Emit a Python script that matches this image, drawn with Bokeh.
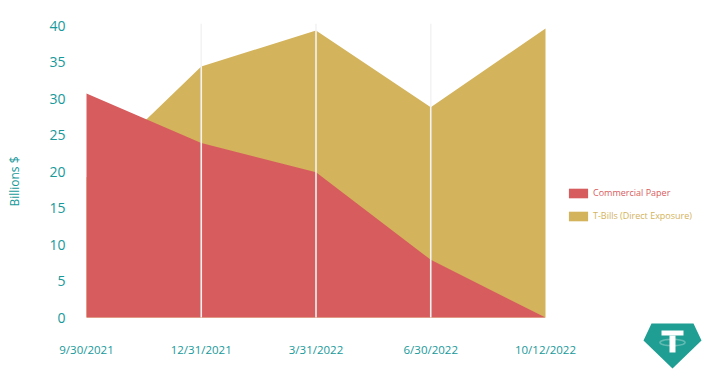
import numpy as np
from bokeh.plotting import figure
from bokeh.models import (Range1d, FixedTicker, Legend, LegendItem, PolyAnnotation,
                          LinearAxis, Label)
from bokeh.embed import file_html
from bokeh.resources import INLINE

dates = ["9/30/2021", "12/31/2021", "3/31/2022", "6/30/2022", "10/12/2022"]
commercial_paper = [30.7, 23.9, 19.9, 7.9, 0.0]
t_bills = [19.2, 34.4, 39.3, 28.8, 39.6]
y_ticks = [0, 5, 10, 15, 20, 25, 30, 35, 40]

RED = "#D75C5E"
GOLD = "#D3B35B"
TEAL = "#17999A"
LOGO = "#1F9E93"
FONT = "Open Sans"

W, H = 706, 373
x = list(range(len(dates)))
n = len(dates) - 1

# frame covers the whole canvas; data 0..4 -> px 86..545, 0..40 -> px 317..25
FL, FT = 0, 0
px_x = (545 - 86) / n
px_y = (317 - 25) / 40
x_start = -(86 - FL) / px_x
x_end = (W - 86) / px_x
y_start = -(H - 317) / px_y
y_end = 40 + (25 - FT) / px_y

def sx_to_data(sx):
    return (sx - 86) / px_x

def sy_to_data(sy):
    return (317 - sy) / px_y

p = figure(width=W, height=H, output_backend="svg", toolbar_location=None,
           x_range=Range1d(x_start, x_end), y_range=Range1d(y_start, y_end),
           x_axis_location=None, y_axis_location=None,
           min_border_left=FL, min_border_right=0, min_border_top=FT, min_border_bottom=0)
p.outline_line_color = None
p.background_fill_color = "white"
p.border_fill_color = "white"
p.grid.grid_line_color = None

g = p.varea(x=x, y1=0, y2=t_bills, fill_color=GOLD)
r = p.varea(x=x, y1=0, y2=commercial_paper, fill_color=RED)

# vertical guide lines at the inner dates
inner = x[1:-1]
p.segment(x0=inner, y0=[0] * len(inner), x1=inner, y1=[40.25] * len(inner),
          line_color="#f3f3f3", line_width=1.6, level="overlay")

# x axis drawn at a fixed location below the baseline
xaxis = LinearAxis(fixed_location=sy_to_data(341))
xaxis.ticker = FixedTicker(ticks=x)
xaxis.major_label_overrides = {i: d for i, d in zip(x, dates)}
xaxis.major_label_text_font_size = "11.5px"
xaxis.major_label_standoff = -15
p.add_layout(xaxis, "above")

# y axis drawn at a fixed location left of the areas
yaxis = LinearAxis(fixed_location=sx_to_data(49))
yaxis.ticker = FixedTicker(ticks=y_ticks)
yaxis.major_label_text_font_size = "14px"
yaxis.major_label_standoff = -16
p.add_layout(yaxis, "left")

for ax in (xaxis, yaxis):
    ax.axis_line_color = None
    ax.major_tick_line_color = None
    ax.minor_tick_line_color = None
    ax.major_tick_out = 0
    ax.major_tick_in = 0
    ax.major_label_text_color = TEAL
    ax.major_label_text_font = FONT

p.add_layout(Label(x=14, y=181, x_units="canvas", y_units="canvas", text="Billions $",
                   angle=np.pi / 2, text_align="center", text_baseline="middle",
                   text_font=FONT, text_font_size="12px", text_color=TEAL))

common = dict(orientation="vertical", glyph_width=24, glyph_height=12, label_height=12,
              label_text_font=FONT, label_text_font_size="9px", padding=0, margin=0,
              border_line_color=None, background_fill_alpha=0, label_standoff=3)
leg1 = Legend(items=[LegendItem(label="Commercial Paper", renderers=[r])],
              location=(566 - FL, H - 199), label_text_color=RED, **common)
leg2 = Legend(items=[LegendItem(label="T-Bills (Direct Exposure)", renderers=[g])],
              location=(566 - FL, H - 222), label_text_color=GOLD, **common)
p.add_layout(leg1, "center")
p.add_layout(leg2, "center")

# Tether-style logo (decoration) in canvas units
def poly(xs, ys, **kw):
    p.add_layout(PolyAnnotation(xs=list(xs), ys=list(ys), xs_units="canvas", ys_units="canvas",
                                level="overlay", **kw))

poly([651, 693, 701, 672, 643], [323, 323, 340, 368, 340], fill_color=LOGO, fill_alpha=1, line_color=None)
t = np.linspace(0, 2 * np.pi, 48)
poly(672 + 12.5 * np.cos(t), 342 + 3.2 * np.sin(t), fill_alpha=0, line_color="white", line_width=1.6)
poly([661, 683, 683, 661], [330, 330, 335, 335], fill_color="white", fill_alpha=1, line_color=None)
poly([669, 675, 675, 669], [335, 335, 352, 352], fill_color="white", fill_alpha=1, line_color=None)

open("out.html", "w").write(file_html(p, INLINE))
